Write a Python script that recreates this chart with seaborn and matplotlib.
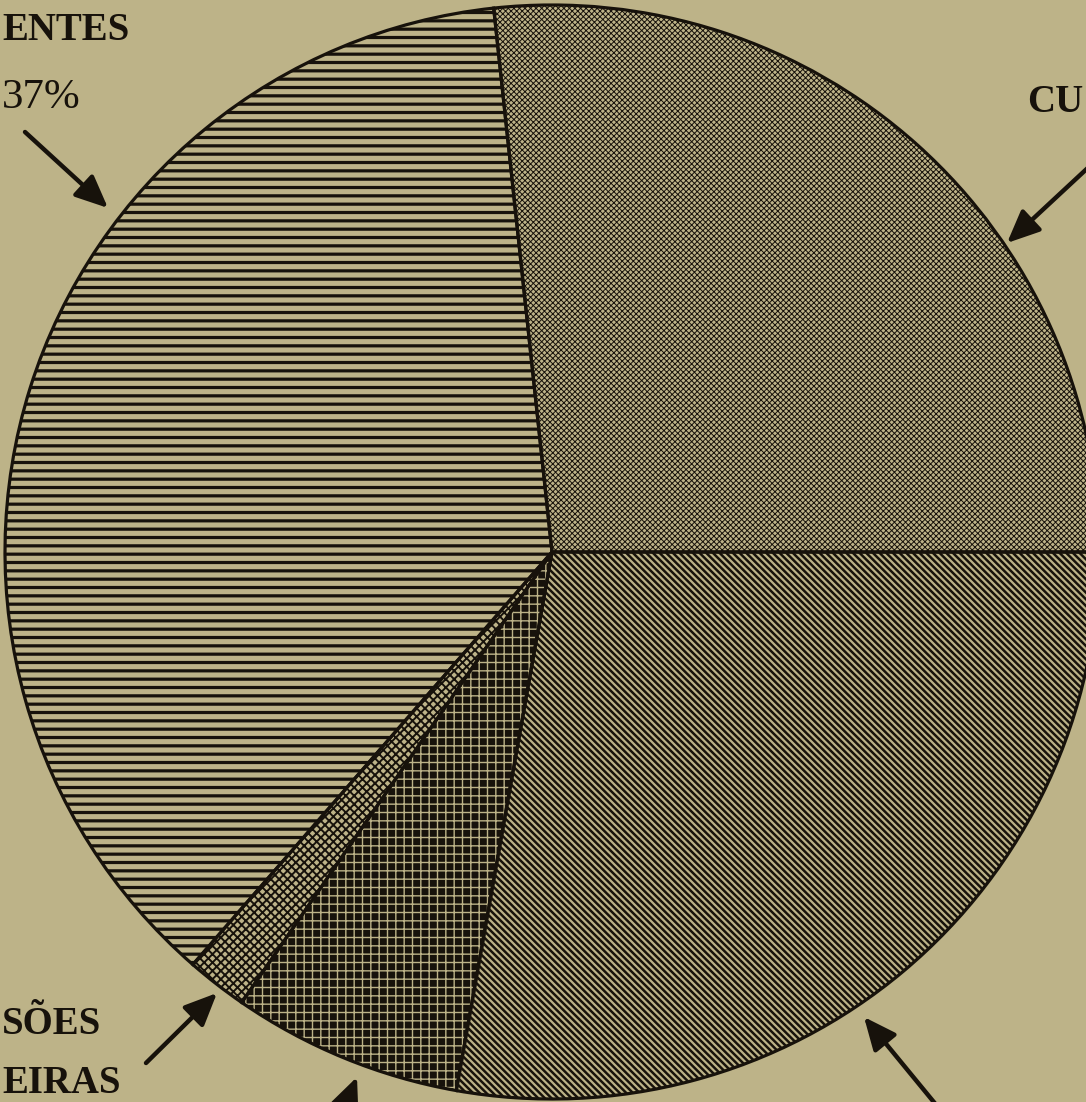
import matplotlib
matplotlib.use("Agg")
import matplotlib.pyplot as plt
import seaborn as sns

# slice shares (percent), counter-clockwise from 3 o'clock
categories = ["CUSTEIO", "TRANSFERÊNCIAS CORRENTES", "INVERSÕES FINANCEIRAS",
              "INVESTIMENTOS", "TRANSFERÊNCIAS DE CAPITAL"]
shares = [26.7, 36.9, 1.8, 6.8, 27.8]
hatches = ["xxxxxx", "--", "xxxx", "++", "\\" * 5]
faces = ["paper", "paper", "paper", "ink", "paper"]
hatch_on = ["ink", "ink", "ink", "paper", "ink"]
hatch_lw = [0.7, 2.3, 1.4, 1.0, 1.8]

# labels as printed (the scan is cropped at the edges)
label_text = ["ENTES", "37%", "CU", "SÕES", "EIRAS"]

PAPER = "#bdb388"
INK = "#17120b"
W, H = 1086, 1102

sns.set_theme(style="white", rc={"figure.facecolor": PAPER, "axes.facecolor": PAPER,
                                 "savefig.facecolor": PAPER})
plt.rcParams["font.family"] = ["Liberation Serif", "DejaVu Serif"]

cmap = {"paper": PAPER, "ink": INK}

fig = plt.figure(figsize=(W / 100, H / 100), dpi=100)
ax = fig.add_axes([0, 0, 1, 1])


def px(x, y):
    # image pixel coords -> data coords
    return x, H - y


center = px(552, 552)
radius = 547

# fills with hatching
wedges, _ = ax.pie(shares, startangle=0, counterclock=True, center=center, radius=radius,
                   colors=[cmap[f] for f in faces],
                   wedgeprops=dict(linewidth=0))
for w, h, hc, lw in zip(wedges, hatches, hatch_on, hatch_lw):
    w.set_hatch(h)
    w.set_edgecolor(cmap[hc])
    w.set_linewidth(0)
    if hasattr(w, "set_hatch_linewidth"):
        w.set_hatch_linewidth(lw)

# outlines
ax.pie(shares, startangle=0, counterclock=True, center=center, radius=radius,
       colors=["none"] * len(shares),
       wedgeprops=dict(linewidth=2.3, edgecolor=INK, fill=False))

ax.set_xlim(0, W)
ax.set_ylim(0, H)
ax.set_aspect("auto")
ax.axis("off")

# labels
bold = dict(fontsize=28, fontweight="bold", color=INK)
ax.text(*px(2, 40), label_text[0], ha="left", va="baseline", **bold)
ax.text(*px(2, 108), label_text[1], ha="left", va="baseline", fontsize=31, color=INK)
ax.text(*px(1083, 112), label_text[2], ha="right", va="baseline", **bold)
ax.text(*px(2, 1034), label_text[3], ha="left", va="baseline", **bold)
ax.text(*px(2, 1093), label_text[4], ha="left", va="baseline", **bold)

# arrows (tail -> head)
arrows = [((25, 132), (108, 208)), ((1092, 164), (1007, 243)),
          ((146, 1063), (217, 993)), ((343, 1112), (357, 1077)),
          ((942, 1112), (864, 1017))]
for tail, head in arrows:
    ax.annotate("", xy=px(*head), xytext=px(*tail), annotation_clip=False,
                arrowprops=dict(arrowstyle="-|>,head_length=0.9,head_width=0.4",
                                lw=3.2, color=INK, shrinkA=0, shrinkB=0,
                                mutation_scale=22))

fig.savefig("out.png", dpi=100)
